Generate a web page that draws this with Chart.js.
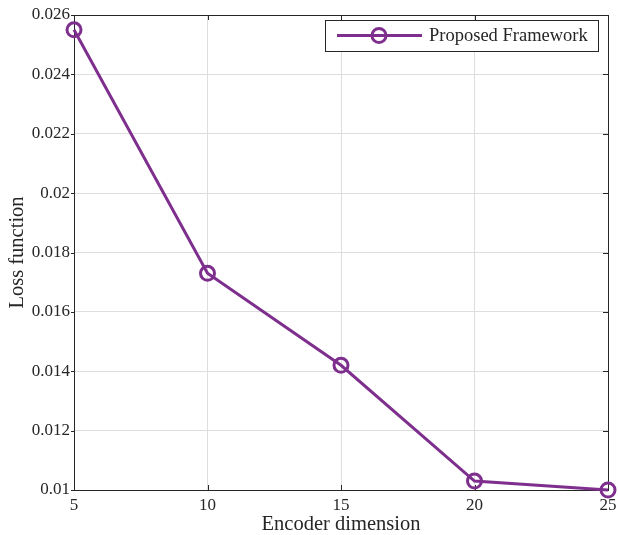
<!DOCTYPE html>
<html>
<head>
<meta charset="utf-8">
<script src="https://cdn.jsdelivr.net/npm/chart.js@4/dist/chart.umd.min.js"></script>
<style>
  html, body { margin: 0; padding: 0; background: #ffffff; }
  #wrap { width: 618px; height: 535px; position: relative; }
</style>
</head>
<body>
<div id="wrap"><canvas id="chart"></canvas></div>
<script>
// Loss vs. encoder dimension
const encoderDims = [5, 10, 15, 20, 25];
const lossValues = [0.0255, 0.0173, 0.0142, 0.0103, 0.0100];
const seriesLabel = 'Proposed Framework';
const xTitle = 'Encoder dimension';
const yTitle = 'Loss function';

const PURPLE = '#7E2F8E';
const AXIS = '#262626';
const GRID = '#dedede';
const FONT = '"Liberation Serif", "Times New Roman", serif';

// Box around the plot area with short tick marks on every side
const framePlugin = {
  id: 'frame',
  beforeDatasetsDraw(chart) {
    const { ctx, chartArea: a, scales: { x, y } } = chart;
    ctx.save();
    ctx.strokeStyle = AXIS;
    ctx.lineWidth = 1;
    ctx.strokeRect(a.left + 0.5, a.top + 0.5, a.right - a.left, a.bottom - a.top);
    ctx.beginPath();
    x.ticks.forEach(t => {
      const px = Math.round(x.getPixelForValue(t.value)) + 0.5;
      ctx.moveTo(px, a.bottom); ctx.lineTo(px, a.bottom - 5);
      ctx.moveTo(px, a.top); ctx.lineTo(px, a.top + 5);
    });
    y.ticks.forEach(t => {
      const py = Math.round(y.getPixelForValue(t.value)) + 0.5;
      ctx.moveTo(a.left, py); ctx.lineTo(a.left - 3, py);
      ctx.moveTo(a.right, py); ctx.lineTo(a.right - 5, py);
    });
    ctx.stroke();
    ctx.restore();
  }
};

// Legend box drawn inside the upper right corner of the plot
const insideLegend = {
  id: 'insideLegend',
  afterDatasetsDraw(chart) {
    const { ctx, chartArea: a } = chart;
    const ds = chart.data.datasets[0];
    const boxW = 273, boxH = 31;
    const bx = a.right - 10 - boxW, by = a.top + 5;
    ctx.save();
    ctx.fillStyle = '#ffffff';
    ctx.fillRect(bx, by, boxW, boxH);
    ctx.strokeStyle = AXIS;
    ctx.lineWidth = 1;
    ctx.strokeRect(bx + 0.5, by + 0.5, boxW, boxH);
    const cy = by + boxH / 2;
    ctx.strokeStyle = ds.borderColor;
    ctx.lineWidth = ds.borderWidth;
    ctx.beginPath();
    ctx.moveTo(bx + 12, cy); ctx.lineTo(bx + 97, cy);
    ctx.stroke();
    ctx.lineWidth = ds.pointBorderWidth;
    ctx.beginPath();
    ctx.arc(bx + 54, cy, ds.pointRadius, 0, Math.PI * 2);
    ctx.stroke();
    ctx.fillStyle = AXIS;
    ctx.font = '18.5px ' + FONT;
    ctx.textBaseline = 'middle';
    ctx.fillText(ds.label, bx + 104, cy + 1);
    ctx.restore();
  }
};

new Chart(document.getElementById('chart'), {
  type: 'line',
  data: {
    datasets: [{
      label: seriesLabel,
      data: encoderDims.map((d, i) => ({ x: d, y: lossValues[i] })),
      borderColor: PURPLE,
      borderWidth: 3,
      pointRadius: 7,
      pointHoverRadius: 7,
      pointBorderWidth: 3,
      pointBorderColor: PURPLE,
      pointBackgroundColor: 'rgba(0,0,0,0)',
      tension: 0,
      clip: false
    }]
  },
  options: {
    responsive: true,
    maintainAspectRatio: false,
    animation: false,
    events: [],
    layout: { padding: { top: 15, right: 8, left: 0, bottom: 0 } },
    plugins: { legend: { display: false }, tooltip: { enabled: false } },
    scales: {
      x: {
        type: 'linear',
        min: 5, max: 25,
        border: { display: false },
        grid: { color: GRID, lineWidth: 1, drawTicks: false },
        ticks: { stepSize: 5, padding: 5, color: AXIS, font: { family: FONT, size: 17 } },
        title: { display: true, text: xTitle, color: AXIS, padding: { top: 0, bottom: -2 },
                 font: { family: FONT, size: 20.5 } },
        afterFit(s) { s.height = 45; s.paddingLeft = 0; s.paddingRight = 0; }
      },
      y: {
        type: 'linear',
        min: 0.01, max: 0.026,
        border: { display: false },
        grid: { color: GRID, lineWidth: 1, drawTicks: false },
        ticks: {
          stepSize: 0.002, padding: 4, color: AXIS, font: { family: FONT, size: 17 },
          callback: v => String(+v.toFixed(3))
        },
        title: { display: true, text: yTitle, color: AXIS, padding: { top: 5, bottom: 0 },
                 font: { family: FONT, size: 20.5 } },
        afterFit(s) { s.width = 74; s.paddingTop = 0; s.paddingBottom = 0; }
      }
    }
  },
  plugins: [framePlugin, insideLegend]
});
</script>
</body>
</html>
